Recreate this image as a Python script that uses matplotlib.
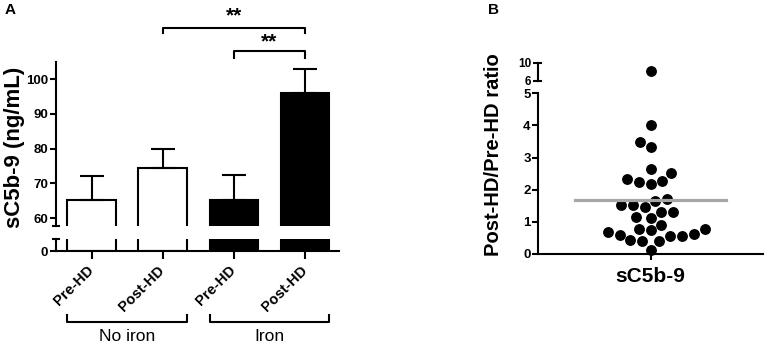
import numpy as np
from matplotlib import pyplot as plt
from matplotlib import transforms

plt.rcParams['font.family'] = ['Liberation Sans', 'DejaVu Sans']
plt.rcParams['font.weight'] = 'bold'

# Panel A data
groups = ["Pre-HD", "Post-HD", "Pre-HD", "Post-HD"]
means = [65.2, 74.3, 65.2, 95.9]
sems = [7.0, 5.5, 7.2, 7.0]
fills = ["white", "white", "black", "black"]
group_names = ["No iron", "Iron"]

# Panel B data: post/pre ratio per patient
ratios = [8.1, 4.0, 3.5, 3.34, 2.66, 2.53, 2.27, 2.19, 2.23, 2.32,
          1.70, 1.66, 1.54, 1.54, 1.45, 1.30, 1.32, 1.12, 1.14,
          0.90, 0.78, 0.78, 0.67, 0.74, 0.57, 0.62, 0.59, 0.57,
          0.41, 0.41, 0.43, 0.14]

W, H = 766, 345
LW = 1.5


def box(x0, y0, x1, y1):
    # pixel box (top-left origin) -> figure fractions
    return [x0 / W, (H - y1) / H, (x1 - x0) / W, (y1 - y0) / H]


def swarm(yp, d):
    # simple beeswarm in pixel space, returns x offsets in pixels
    xs = np.zeros(len(yp))
    placed = []
    for i in np.argsort(yp):
        cands = [0.0]
        for xj, yj in placed:
            dy = yp[i] - yj
            if abs(dy) < d:
                dx = np.sqrt(d ** 2 - dy ** 2)
                cands += [xj - dx, xj + dx]
        cands.sort(key=abs)
        for c in cands:
            if all((c - xj) ** 2 + (yp[i] - yj) ** 2 >= d ** 2 - 1e-6 for xj, yj in placed):
                xs[i] = c
                break
        placed.append((xs[i], yp[i]))
    return xs


fig = plt.figure(figsize=(W / 100, H / 100), dpi=100)

# ---------------- Panel A ----------------
x = np.arange(len(means))
bw = 0.68
axt = fig.add_axes(box(56, 62, 339, 226))
axb = fig.add_axes(box(56, 239, 339, 251))

for ax in (axt, axb):
    ax.bar(x, means, width=bw, color=fills, edgecolor="black", linewidth=LW)
    ax.set_xlim(-0.5, 3.48)
    for s in ("top", "right"):
        ax.spines[s].set_visible(False)
    for s in ("left", "bottom"):
        ax.spines[s].set_linewidth(LW)
    ax.tick_params(width=LW, length=4, labelsize=9.5, pad=1.5)

axt.errorbar(x, means, yerr=[np.zeros(4), sems], fmt="none", ecolor="black",
             elinewidth=LW, capsize=8.5, capthick=LW)
axt.set_ylim(57.7, 104.9)
axt.set_yticks([60, 70, 80, 90, 100])
axt.spines["bottom"].set_visible(False)
axt.set_xticks([])
axt.plot([-0.011, 0.011], [0, 0], color="black", lw=LW, transform=axt.transAxes, clip_on=False)

axb.set_ylim(0, 3.45)
axb.set_yticks([0])
axb.plot([-0.011, 0.011], [1, 1], color="black", lw=LW, transform=axb.transAxes, clip_on=False)
axb.set_xticks(x)
axb.set_xticklabels(groups, rotation=45, ha="right", va="center", rotation_mode="anchor",
                    fontsize=10.5)
axb.tick_params(axis="x", length=6, pad=6)

fig.text(15 / W, (H - 147.5) / H, "sC5b-9 (ng/mL)", rotation=90, ha="center", va="center",
         fontsize=16, fontweight="bold")

# significance brackets
for (a, b, ylo, yhi, ys) in [(1, 3, 113.2, 114.6, 118.3), (2, 3, 106.0, 108.1, 110.6)]:
    axt.plot([a, a, b, b], [ylo, yhi, yhi, ylo], color="black", lw=LW, clip_on=False)
    axt.text((a + b) / 2, ys, "**", ha="center", va="center", fontsize=15, fontweight="bold")

# group brackets under the axis
tr = transforms.blended_transform_factory(axb.transData, fig.transFigure)
for k, name in enumerate(group_names):
    a = 2 * k - bw / 2
    b = 2 * k + 1 + bw / 2
    y0, y1 = (H - 315) / H, (H - 321.7) / H
    axb.plot([a, a, b, b], [y0, y1, y1, y0], color="black", lw=LW, transform=tr, clip_on=False)
    axb.text((a + b) / 2, 4 / H, name, transform=tr, ha="center", va="baseline",
             fontsize=12.5, fontweight="normal")

fig.text(5 / W, (H - 3) / H, "A", ha="left", va="top", fontsize=11, fontweight="bold")

# ---------------- Panel B ----------------
vals = np.array(ratios)
bl = fig.add_axes(box(538.3, 93.3, 763, 254))
bu = fig.add_axes(box(538.3, 62.7, 763, 80.7))
px_per_x = (763 - 538.3) / 2.0

low = vals <= 5
yp = vals[low] * (254 - 93.3) / 5.0
xo = swarm(yp, 12.0) / px_per_x
bl.plot(xo, vals[low], "o", color="black", ms=6.8, clip_on=False)
bu.plot(np.zeros((~low).sum()), vals[~low], "o", color="black", ms=6.8, clip_on=False)

m = vals.mean()
bl.plot([-0.67, 0.67], [m, m], color="#a6a6a6", lw=2.3)

for ax in (bl, bu):
    ax.set_xlim(-1, 1)
    for s in ("top", "right"):
        ax.spines[s].set_visible(False)
    for s in ("left", "bottom"):
        ax.spines[s].set_linewidth(LW)
    ax.tick_params(width=LW, length=4, labelsize=9.5, pad=1.5)

bl.set_ylim(0, 5)
bl.set_yticks([0, 1, 2, 3, 4, 5])
bl.set_xticks([0])
bl.set_xticklabels([""])
bl.set_xlabel("sC5b-9", fontsize=15, fontweight="bold", labelpad=4)

bu.set_ylim(6, 10)
bu.set_yticks([6, 10])
bu.tick_params(labelsize=8.5, length=3.5)
bu.spines["bottom"].set_visible(False)
bu.set_xticks([])
bu.plot([0, 0.012], [0, 0], color="black", lw=LW, transform=bu.transAxes, clip_on=False)
bu.plot([0, 0.012], [1, 1], color="black", lw=LW, transform=bu.transAxes, clip_on=False)

fig.text(493 / W, (H - 155) / H, "Post-HD/Pre-HD ratio", rotation=90, ha="center", va="center",
         fontsize=14.5, fontweight="bold")
fig.text(488 / W, (H - 3) / H, "B", ha="left", va="top", fontsize=11, fontweight="bold")

fig.savefig("out.png", dpi=100)
